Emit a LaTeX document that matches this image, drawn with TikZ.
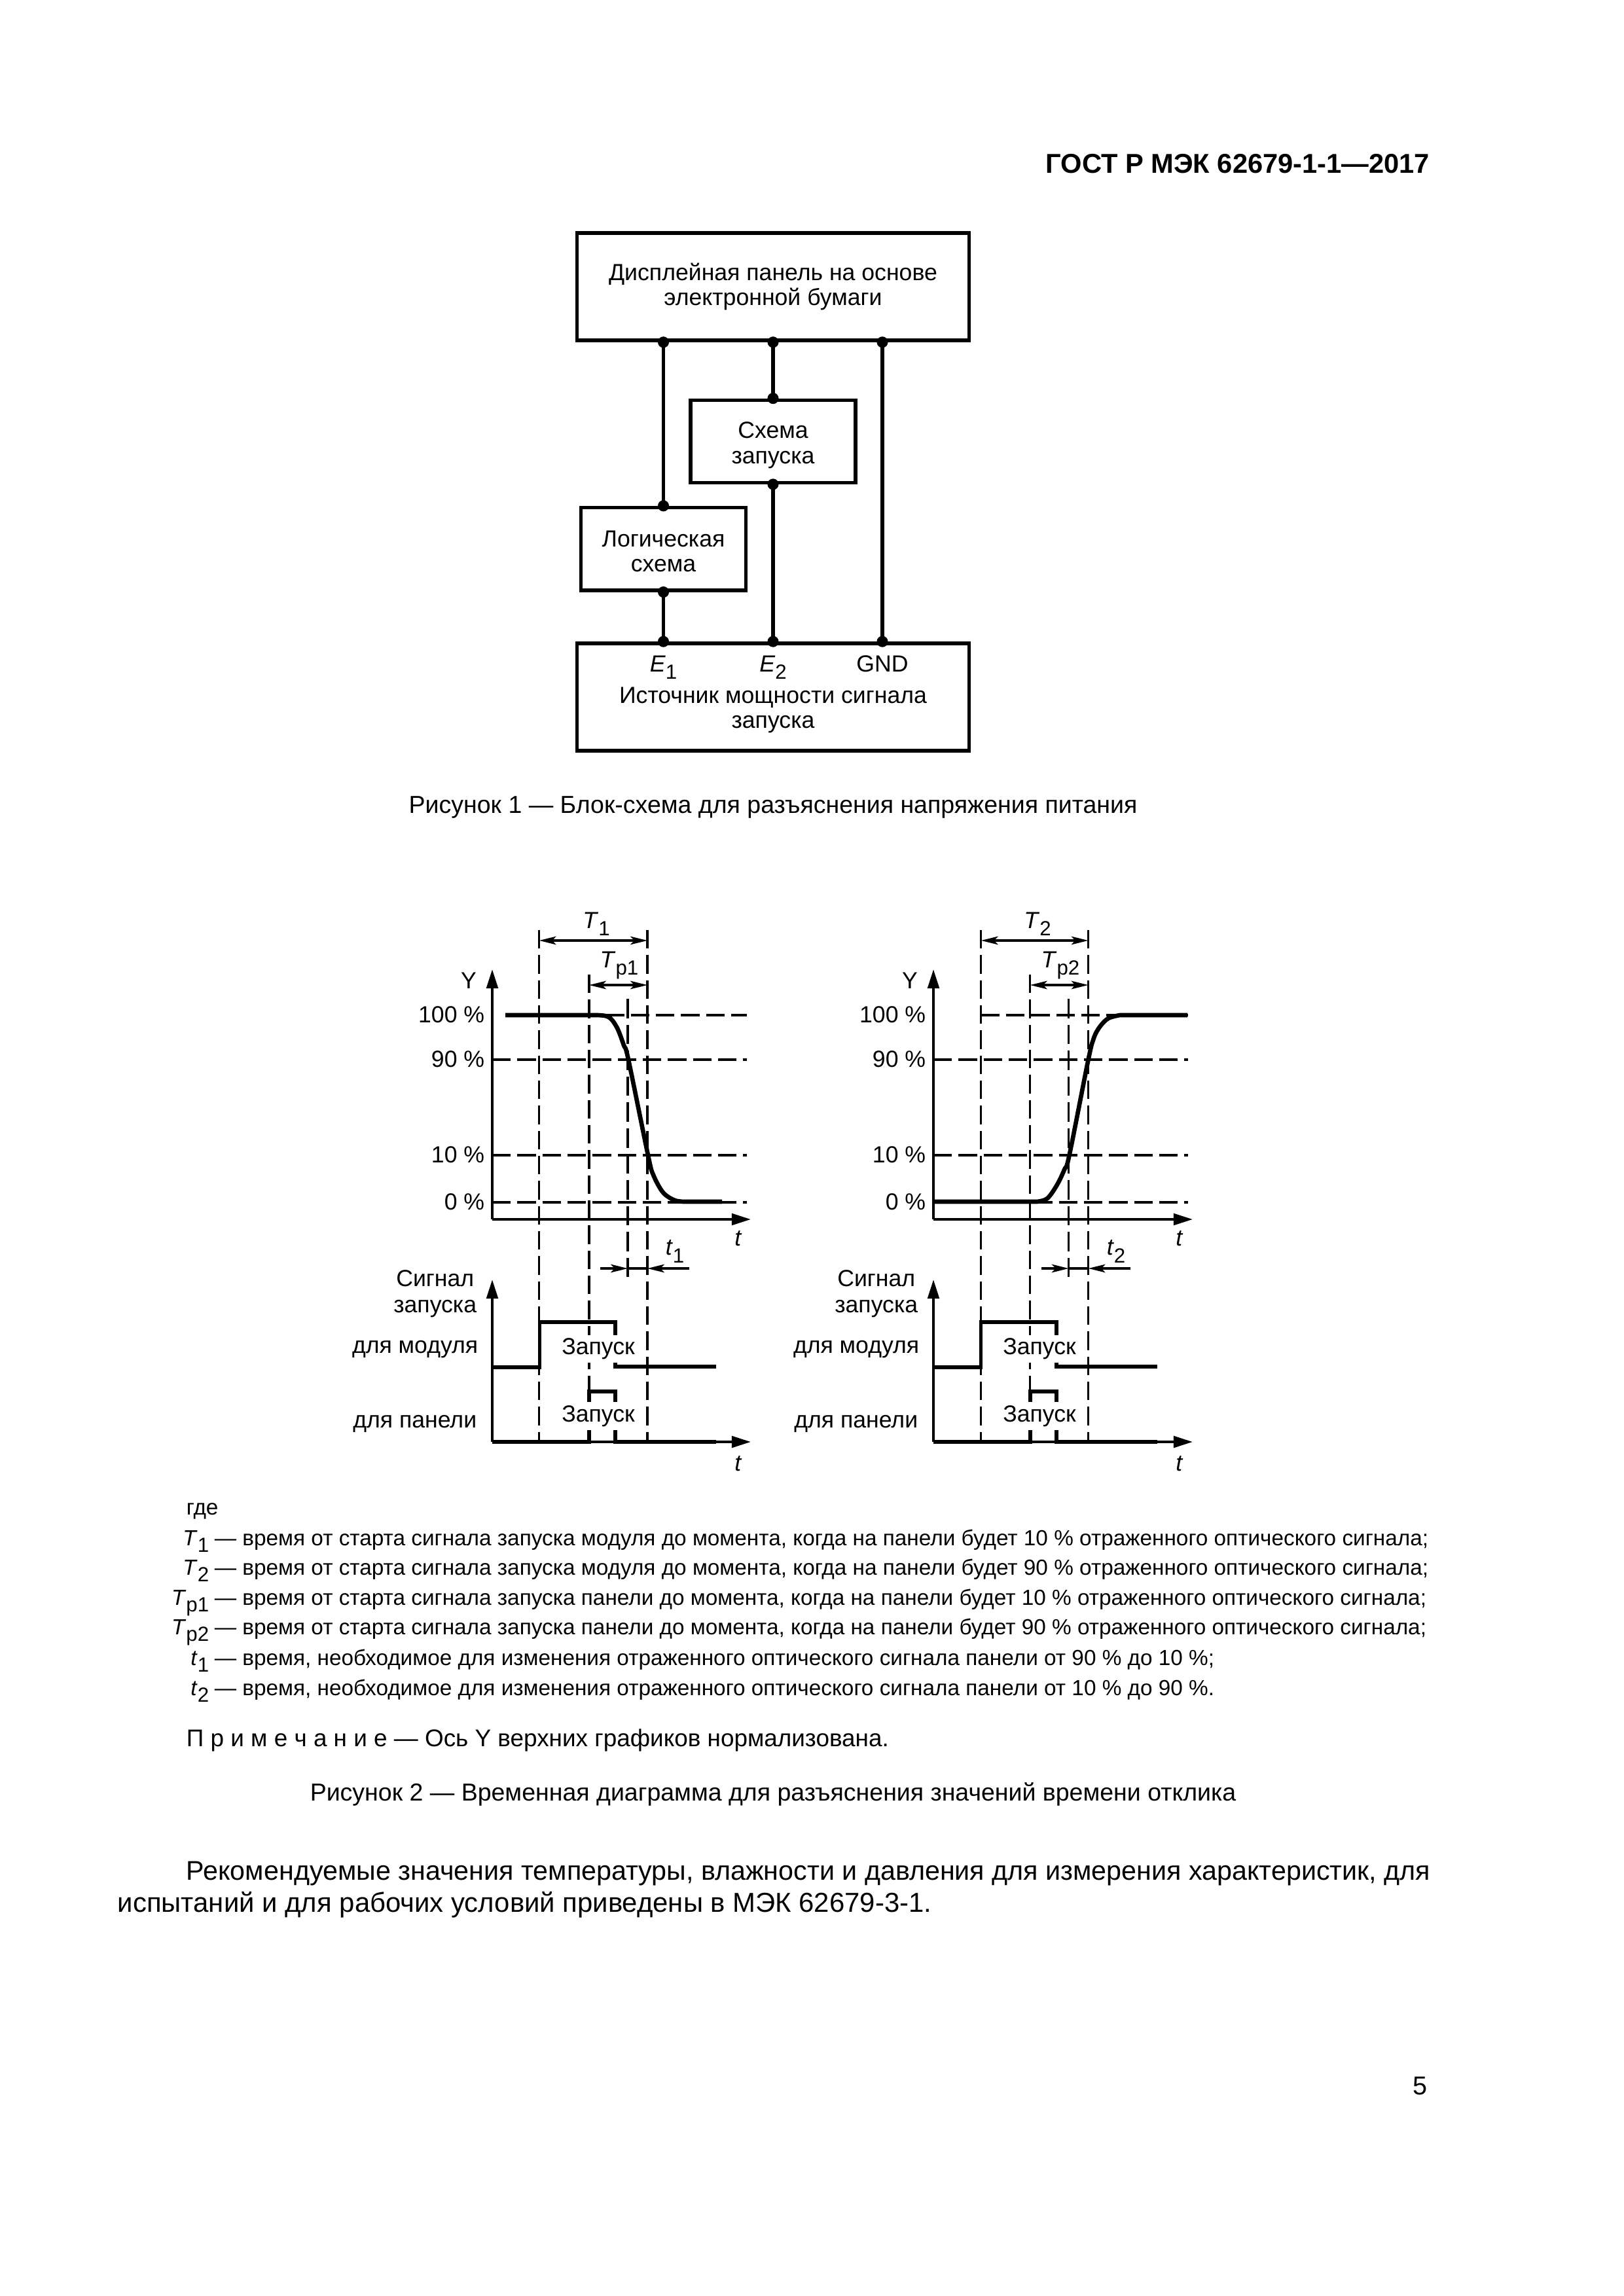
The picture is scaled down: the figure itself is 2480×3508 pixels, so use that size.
\documentclass[tikz,border=0pt]{standalone}
\usepackage{fontspec}
\setmainfont{Liberation Sans}
\usepackage{tikz}
\usetikzlibrary{arrows.meta}

\newcommand{\ital}[1]{\textit{#1}}
\newcommand{\lowidx}[1]{\raisebox{-0.6ex}{\fontsize{7.5}{7.5}\selectfont #1}}
\newcommand{\dropline}{\rule{0pt}{8.9pt}}

\begin{document}
\begin{tikzpicture}[
    x=0.24pt, y=-0.24pt,
    block/.style={rectangle, draw=black, line width=1.3pt, inner sep=0pt,
                  font=\fontsize{8.55}{9.25}\selectfont, align=center},
    dot/.style={circle, fill=black, inner sep=0pt, minimum size=4.1pt},
    wire/.style={line width=1.35pt},
    txt/.style={inner sep=0pt, font=\fontsize{8.55}{9.25}\selectfont, align=center},
    rtxt/.style={txt, anchor=base east},
    leg/.style={inner sep=0pt, font=\fontsize{8}{9}\selectfont, anchor=base west},
    legsym/.style={inner sep=0pt, font=\fontsize{8}{9}\selectfont, anchor=base east},
    captxt/.style={inner sep=0pt, font=\fontsize{9}{10}\selectfont, anchor=base},
    bodytxt/.style={inner sep=0pt, font=\fontsize{9.9}{11}\selectfont, anchor=base west},
    axisline/.style={-{Triangle[length=7pt,width=4.2pt]}, line width=0.95pt},
    gridline/.style={line width=0.85pt, dash pattern=on 6.8pt off 2.4pt},
    tickline/.style={line width=0.85pt, dash pattern=on 7.1pt off 2.4pt},
    dimline/.style={{Stealth[length=6.2pt,width=3pt,inset=1.4pt]}-{Stealth[length=6.2pt,width=3pt,inset=1.4pt]}, line width=0.8pt},
    into/.style={-{Stealth[length=6.2pt,width=3pt,inset=1.4pt]}, line width=0.8pt},
    trace/.style={line width=1.6pt},
    pulse/.style={line width=1.4pt},
    trig/.style={inner sep=0pt, fill=white, minimum width=27pt, minimum height=10.2pt,
                 font=\fontsize{8.55}{9.25}\selectfont}
]
    \path[use as bounding box, fill=white] (0,0) rectangle (2480,3508);

    \node[inner sep=0pt, anchor=base east, font=\fontsize{10}{11}\bfseries\selectfont] (head) at (2185,265) {ГОСТ Р МЭК 62679-1-1—2017};

    % block scheme
    \node[block, minimum width=143.8pt, minimum height=39.4pt] (disp) at (1181,438) {Дисплейная панель на основе\\электронной бумаги};
    \node[block, minimum width=60.5pt, minimum height=30.2pt] (start) at (1181,674.3) {\dropline Схема\\запуска};
    \node[block, minimum width=60.6pt, minimum height=30.3pt] (logic) at (1013.5,838.7) {\rule{0pt}{7.6pt}Логическая\\схема};
    \node[block, minimum width=143.8pt, minimum height=39.4pt] (src) at (1181,1065) {};
    \node[txt] (e1) at (1013.5,1020) {\ital{E}\lowidx{1}};
    \node[txt] (e2) at (1181,1020) {\ital{E}\lowidx{2}};
    \node[txt] (gnd) at (1348,1014) {GND};
    \node[txt] (srctxt) at (1181,1085) {Источник мощности сигнала\\запуска};

    \draw[wire] (disp.south -| logic) node[dot] (da) {} -- (logic.north) node[dot] (db) {};
    \draw[wire] (logic.south) node[dot] (dc) {} -- (src.north -| logic) node[dot] (dd) {};
    \draw[wire] (disp.south -| start) node[dot] (de) {} -- (start.north) node[dot] (df) {};
    \draw[wire] (start.south) node[dot] (dg) {} -- (src.north -| start) node[dot] (dh) {};
    \draw[wire] (disp.south -| gnd) node[dot] (di) {} -- (src.north -| gnd) node[dot] (dj) {};

    \node[captxt] (capa) at (1181,1242) {Рисунок 1 — Блок-схема для разъяснения напряжения питания};

    % left chart, falling
    \draw[gridline] (823.6,1421) -- (823.6,2205);
    \draw[gridline] (900,1489) -- (900,2205);
    \draw[tickline] (959,1526) -- (959,1952);
    \draw[gridline] (989,1421) -- (989,2205);
    \draw[gridline] (772,1551) -- (1141,1551);
    \draw[gridline] (752,1619) -- (1141,1619);
    \draw[gridline] (752,1765) -- (1141,1765);
    \draw[gridline] (752,1837) -- (1141,1837);
    \draw[axisline] (752,1863) -- (752,1481);
    \draw[axisline] (752,1863) -- (1147,1863);
    \draw[trace] (772,1551) -- (900,1551) plot[smooth, tension=0.55] coordinates {(900,1551) (928,1553) (942,1569) (953,1597) (960,1619) (990,1765) (998,1795) (1013,1822) (1031,1834) (1047,1836)} -- (1103,1836);
    \draw[dimline] (823.6,1437) -- (989,1437);
    \draw[dimline] (900,1505) -- (989,1505);
    \draw[into] (917,1938) -- (959,1938);
    \draw[into] (1053,1938) -- (989,1938);
    \draw[line width=0.8pt] (959,1938) -- (989,1938);
    \draw[axisline] (752,2203) -- (752,1955);
    \draw[axisline] (752,2203) -- (1147,2203);
    \draw[pulse] (752,2089) -- (824.5,2089) -- (824.5,2020) -- (940,2020) -- (940,2088) -- (1094,2088);
    \draw[pulse] (752,2203) -- (900,2203) -- (900,2126) -- (940,2126) -- (940,2203) -- (1094,2203);

    \node[txt] (lT) at (911,1412) {\ital{T}\lowidx{1}};
    \node[txt] (lTp) at (946,1475) {\ital{T}\lowidx{p1}};
    \node[txt] (lY) at (716,1498) {Y};
    \node[rtxt] (la) at (741,1562) {100 \%};
    \node[rtxt] (lb) at (741,1630) {90 \%};
    \node[rtxt] (lc) at (741,1776) {10 \%};
    \node[rtxt] (ld) at (741,1848) {0 \%};
    \node[txt] (lt) at (1128,1892) {\ital{t}};
    \node[txt] (ltone) at (1031,1912) {\ital{t}\lowidx{1}};
    \node[rtxt] (le) at (725,1965) {Сигнал};
    \node[rtxt] (lf) at (729,2005) {запуска};
    \node[rtxt] (lg) at (731,2067) {для модуля};
    \node[rtxt] (lh) at (729,2181) {для панели};
    \node[trig] (li) at (914,2061) {Запуск};
    \node[trig] (lj) at (914,2163.5) {Запуск};
    \node[txt] (lk) at (1128,2236) {\ital{t}};

    % right chart, rising
    \draw[gridline] (1498.7,1421) -- (1498.7,2205);
    \draw[gridline] (1573.7,1489) -- (1573.7,2205);
    \draw[tickline] (1632.7,1526) -- (1632.7,1952);
    \draw[gridline] (1662.6,1421) -- (1662.6,2205);
    \draw[gridline] (1498.7,1551) -- (1815,1551);
    \draw[gridline] (1426,1619) -- (1815,1619);
    \draw[gridline] (1426,1765) -- (1815,1765);
    \draw[gridline] (1426,1837) -- (1815,1837);
    \draw[axisline] (1426,1863) -- (1426,1481);
    \draw[axisline] (1426,1863) -- (1822,1863);
    \draw[trace] (1426,1836) -- (1584,1836) plot[smooth, tension=0.55] coordinates {(1584,1836) (1600,1831) (1615,1810) (1626,1787) (1633.6,1765) (1662.6,1619) (1671,1586) (1680,1569) (1693,1556) (1711,1551)} -- (1814,1551);
    \draw[dimline] (1498.7,1437) -- (1662.6,1437);
    \draw[dimline] (1573.7,1505) -- (1662.6,1505);
    \draw[into] (1591,1938) -- (1632.7,1938);
    \draw[into] (1727,1938) -- (1662.6,1938);
    \draw[line width=0.8pt] (1632.7,1938) -- (1662.6,1938);
    \draw[axisline] (1426,2203) -- (1426,1955);
    \draw[axisline] (1426,2203) -- (1822,2203);
    \draw[pulse] (1426,2089) -- (1498.5,2089) -- (1498.5,2020) -- (1614,2020) -- (1614,2088) -- (1768,2088);
    \draw[pulse] (1426,2203) -- (1574,2203) -- (1574,2126) -- (1614,2126) -- (1614,2203) -- (1768,2203);

    \node[txt] (rT) at (1585,1412) {\ital{T}\lowidx{2}};
    \node[txt] (rTp) at (1620,1475) {\ital{T}\lowidx{p2}};
    \node[txt] (rY) at (1390,1498) {Y};
    \node[rtxt] (ra) at (1415,1562) {100 \%};
    \node[rtxt] (rb) at (1415,1630) {90 \%};
    \node[rtxt] (rc) at (1415,1776) {10 \%};
    \node[rtxt] (rd) at (1415,1848) {0 \%};
    \node[txt] (rt) at (1802,1892) {\ital{t}};
    \node[txt] (rtone) at (1705,1912) {\ital{t}\lowidx{2}};
    \node[rtxt] (re) at (1399,1965) {Сигнал};
    \node[rtxt] (rf) at (1403,2005) {запуска};
    \node[rtxt] (rg) at (1405,2067) {для модуля};
    \node[rtxt] (rh) at (1403,2181) {для панели};
    \node[trig] (ri) at (1588,2061) {Запуск};
    \node[trig] (rj) at (1588,2163.5) {Запуск};
    \node[txt] (rk) at (1802,2236) {\ital{t}};

    % legend
    \node[leg] (gde) at (284,2314) {где};
    \node[legsym] (sa) at (320,2361) {\ital{T}\lowidx{1}};
    \node[leg] (ta) at (327,2361) {— время от старта сигнала запуска модуля до момента, когда на панели будет 10 \% отраженного оптического сигнала;};
    \node[legsym] (sb) at (320,2406) {\ital{T}\lowidx{2}};
    \node[leg] (tb) at (327,2406) {— время от старта сигнала запуска модуля до момента, когда на панели будет 90 \% отраженного оптического сигнала;};
    \node[legsym] (sc) at (320,2452) {\ital{T}\lowidx{p1}};
    \node[leg] (tc) at (327,2452) {— время от старта сигнала запуска панели до момента, когда на панели будет 10 \% отраженного оптического сигнала;};
    \node[legsym] (sd) at (320,2497) {\ital{T}\lowidx{p2}};
    \node[leg] (td) at (327,2497) {— время от старта сигнала запуска панели до момента, когда на панели будет 90 \% отраженного оптического сигнала;};
    \node[legsym] (se) at (320,2544) {\ital{t}\lowidx{1}};
    \node[leg] (te) at (327,2544) {— время, необходимое для изменения отраженного оптического сигнала панели от 90 \% до 10 \%;};
    \node[legsym] (sf) at (320,2590) {\ital{t}\lowidx{2}};
    \node[leg] (tf) at (327,2590) {— время, необходимое для изменения отраженного оптического сигнала панели от 10 \% до 90 \%.};
    \node[leg, font=\fontsize{8.85}{10}\selectfont] (note) at (284,2668) {П р и м е ч а н и е\ — Ось Y верхних графиков нормализована.};
    \node[captxt] (capb) at (1181,2751) {Рисунок 2 — Временная диаграмма для разъяснения значений времени отклика};

    \node[bodytxt] (para) at (284,2872) {Рекомендуемые значения температуры, влажности и давления для измерения характеристик, для};
    \node[bodytxt, font=\fontsize{10.05}{11}\selectfont] (parb) at (179,2921) {испытаний и для рабочих условий приведены в МЭК 62679-3-1.};
    \node[captxt, font=\fontsize{9.5}{10}\selectfont] (pageno) at (2169,3200) {5};
\end{tikzpicture}
\end{document}
